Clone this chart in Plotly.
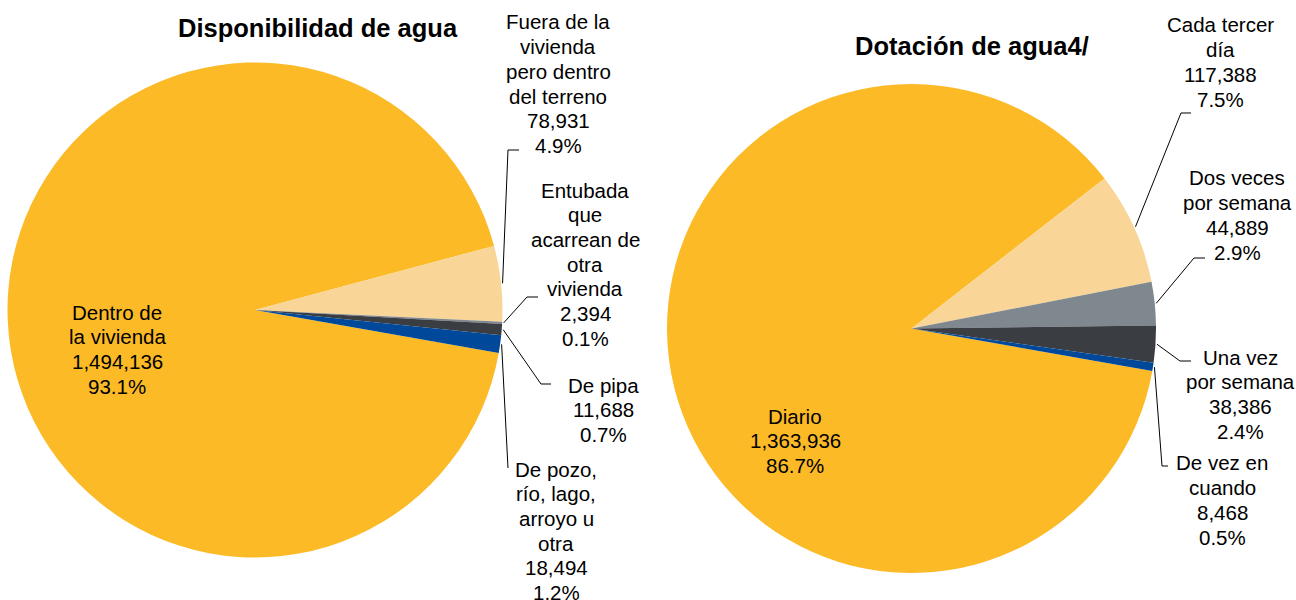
import math
import plotly.graph_objects as go

W, H = 1296, 600

# ---------------- data ----------------
disp_labels = ["Dentro de la vivienda", "Fuera de la vivienda pero dentro del terreno",
               "Entubada que acarrean de otra vivienda", "De pipa",
               "De pozo, río, lago, arroyo u otra"]
disp_values = [1494136, 78931, 2394, 11688, 18494]
disp_pct = ["93.1%", "4.9%", "0.1%", "0.7%", "1.2%"]
disp_text_lines = [["Dentro de", "la vivienda"],
                   ["Fuera de la", "vivienda", "pero dentro", "del terreno"],
                   ["Entubada", "que", "acarrean de", "otra", "vivienda"],
                   ["De pipa"],
                   ["De pozo,", "río, lago,", "arroyo u", "otra"]]

dot_labels = ["Diario", "Cada tercer día", "Dos veces por semana", "Una vez por semana",
              "De vez en cuando"]
dot_values = [1363936, 117388, 44889, 38386, 8468]
dot_pct = ["86.7%", "7.5%", "2.9%", "2.4%", "0.5%"]
dot_text_lines = [["Diario"],
                  ["Cada tercer", "día"],
                  ["Dos veces", "por semana"],
                  ["Una vez", "por semana"],
                  ["De vez en", "cuando"]]

colors = ["#FBBA26", "#F9D597", "#7F888E", "#3A3D41", "#00499A"]
colors_dot = ["#FBBA26", "#F9D597", "#7F888E", "#3A3D41", "#00499A"]

titles = ["Disponibilidad de agua", "Dotación de agua4/"]

# ---------------- layout (pixel geometry) ----------------
ROT = 100
left_geo = dict(cx=255, cy=310, r=247.5)
right_geo = dict(cx=911.5, cy=328.5, r=244.5)

def X(px):
    return px / W

def Y(py):
    return 1 - py / H

def domain(g):
    return dict(x=[X(g["cx"] - g["r"]), X(g["cx"] + g["r"])],
                y=[Y(g["cy"] + g["r"]), Y(g["cy"] - g["r"])])

fig = go.Figure()
fig.add_trace(go.Pie(labels=disp_labels, values=disp_values, sort=False,
                     direction="clockwise", rotation=ROT, textinfo="none",
                     marker=dict(colors=colors, line=dict(width=0)),
                     domain=domain(left_geo), hoverinfo="label+value+percent",
                     showlegend=False))
fig.add_trace(go.Pie(labels=dot_labels, values=dot_values, sort=False,
                     direction="clockwise", rotation=ROT, textinfo="none",
                     marker=dict(colors=colors_dot, line=dict(width=0)),
                     domain=domain(right_geo), hoverinfo="label+value+percent",
                     showlegend=False))

def mid_points(values, g, extra=1.5):
    tot = sum(values)
    pts = []
    a = ROT
    for v in values:
        span = v / tot * 360
        m = math.radians(a + span / 2)
        rr = g["r"] + extra
        pts.append((g["cx"] + rr * math.sin(m), g["cy"] - rr * math.cos(m)))
        a += span
    return pts

FONT = "Liberation Sans, Arial, sans-serif"
LS = 24.7  # line spacing in px

annotations = []
shapes = []

def add_label(lines, cx, y0, size=20.5):
    for i, t in enumerate(lines):
        annotations.append(dict(x=X(cx), y=Y(y0 + i * LS), xref="paper", yref="paper",
                                text=t, showarrow=False, xanchor="center", yanchor="middle",
                                font=dict(family=FONT, size=size, color="#000000")))

def add_leader(p0, pts):
    path = "M %f,%f" % (X(p0[0]), Y(p0[1]))
    for (x, y) in pts:
        path += " L %f,%f" % (X(x), Y(y))
    shapes.append(dict(type="path", xref="paper", yref="paper", path=path,
                       line=dict(color="#000000", width=1)))

# label positions (pixel centers of first line)
disp_label_pos = [(117, 312), (558, 22), (585, 190), (603, 385), (556, 469)]
dot_label_pos = [(795, 416), (1220, 25), (1237, 178), (1240, 357), (1222, 463)]

for i in range(len(disp_values)):
    lines = disp_text_lines[i] + ["{:,}".format(disp_values[i]), disp_pct[i]]
    add_label(lines, *disp_label_pos[i])
for i in range(len(dot_values)):
    lines = dot_text_lines[i] + ["{:,}".format(dot_values[i]), dot_pct[i]]
    add_label(lines, *dot_label_pos[i])

# leader lines: start at slice mid-angle on the rim
lp = mid_points(disp_values, left_geo)
add_leader(lp[1], [(508, 150), (519, 150)])
add_leader(lp[2], [(527, 297), (538, 297)])
add_leader(lp[3], [(541, 384), (551, 384)])
add_leader(lp[4], [(508, 468)])

rp = mid_points(dot_values, right_geo)
add_leader(rp[1], [(1181, 113), (1191, 113)])
add_leader(rp[2], [(1194, 258), (1205, 258)])
add_leader(rp[3], [(1180, 361), (1191, 361)])
add_leader(rp[4], [(1162, 466), (1168, 466)])

# titles
annotations.append(dict(x=X(318), y=Y(28), xref="paper", yref="paper", text="<b>%s</b>" % titles[0],
                        showarrow=False, xanchor="center", yanchor="middle",
                        font=dict(family=FONT, size=25.5, color="#000000")))
annotations.append(dict(x=X(972), y=Y(46), xref="paper", yref="paper", text="<b>%s</b>" % titles[1],
                        showarrow=False, xanchor="center", yanchor="middle",
                        font=dict(family=FONT, size=25.5, color="#000000")))

fig.update_layout(width=W, height=H, margin=dict(l=0, r=0, t=0, b=0),
                  paper_bgcolor="white", plot_bgcolor="white",
                  annotations=annotations, shapes=shapes, showlegend=False)

fig.write_html("out.html", config={"displayModeBar": False},
               post_script="document.body.style.margin='0';document.body.style.overflow='hidden';")
